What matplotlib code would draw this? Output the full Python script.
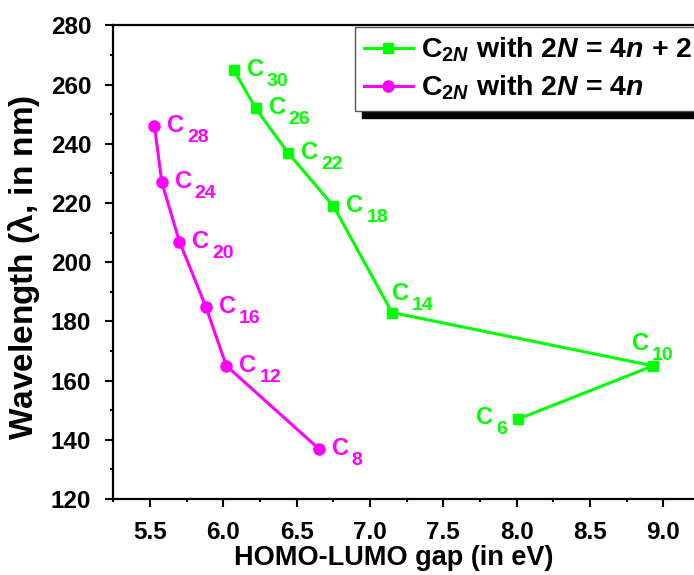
import matplotlib
matplotlib.use('Agg')
import matplotlib.pyplot as plt
from matplotlib.ticker import MultipleLocator

plt.rcParams['font.family'] = ['Liberation Sans', 'DejaVu Sans']
plt.rcParams['font.weight'] = 'bold'
plt.rcParams['axes.labelweight'] = 'bold'
plt.rcParams['mathtext.fontset'] = 'custom'
plt.rcParams['mathtext.rm'] = 'Liberation Sans:bold'
plt.rcParams['mathtext.bf'] = 'Liberation Sans:bold'
plt.rcParams['mathtext.it'] = 'Liberation Sans:bold:italic'
plt.rcParams['mathtext.default'] = 'rm'

# C2N with 2N = 4n + 2
green_gap = [8.01, 8.93, 7.15, 6.75, 6.44, 6.22, 6.07]
green_wl = [147, 165, 183, 219, 237, 252, 265]
green_names = ['6', '10', '14', '18', '22', '26', '30']

# C2N with 2N = 4n
pink_gap = [6.65, 6.02, 5.88, 5.70, 5.58, 5.53]
pink_wl = [137, 165, 185, 207, 227, 246]
pink_names = ['8', '12', '16', '20', '24', '28']

GREEN = '#00ff00'
PINK = '#ff00ff'
PX = 0.72  # points per pixel at dpi 100

fig = plt.figure(figsize=(6.94, 5.75), dpi=100)
ax = fig.add_axes([0.1624, 0.1322, 0.8462, 0.8235])

ax.plot(green_gap, green_wl, '-s', color=GREEN, lw=2.2, ms=7,
        label=r'C$_{2\mathit{N}}$ with 2$\mathit{N}$ = 4$\mathit{n}$ + 2')
ax.plot(pink_gap, pink_wl, '-o', color=PINK, lw=2.2, ms=8,
        label=r'C$_{2\mathit{N}}$ with 2$\mathit{N}$ = 4$\mathit{n}$')


def label(x, y, n, color, dx=13, dy=-6):
    # "C" then a lowered, smaller number; offsets in pixels
    ax.annotate('C', (x, y), xytext=(dx * PX, dy * PX), textcoords='offset points',
                ha='left', va='baseline', color=color, fontsize=17)
    ax.annotate(n, (x, y), xytext=((dx + 20) * PX, (dy - 10) * PX),
                textcoords='offset points', ha='left', va='baseline',
                color=color, fontsize=14)


special = {'14': (0, 13), '10': (-21, 16), '6': (-42, -5)}
for x, y, n in zip(green_gap, green_wl, green_names):
    dx, dy = special.get(n, (13, -6))
    label(x, y, n, GREEN, dx, dy)
for x, y, n in zip(pink_gap, pink_wl, pink_names):
    label(x, y, n, PINK)

ax.set_xlim(5.245, 9.25)
ax.set_ylim(120, 280)
ax.xaxis.set_major_locator(MultipleLocator(0.5))
ax.xaxis.set_minor_locator(MultipleLocator(0.25))
ax.yaxis.set_major_locator(MultipleLocator(20))
ax.yaxis.set_minor_locator(MultipleLocator(10))
ax.tick_params(which='major', direction='out', length=5.5, width=1.5,
               labelsize=17.5, pad=10)
ax.tick_params(which='minor', direction='out', length=2.5, width=1.5)
for t in ax.get_xticklabels() + ax.get_yticklabels():
    t.set_fontweight('bold')
for s in ax.spines.values():
    s.set_linewidth(1.6)

ax.set_xlabel('HOMO-LUMO gap (in eV)', fontsize=19.5)
ax.set_ylabel(r'Wavelength ($\lambda$, in nm)', fontsize=24)
ax.xaxis.set_label_coords(0.479, -0.098)
ax.yaxis.set_label_coords(-0.12, 0.49)

leg = ax.legend(loc='upper left', bbox_to_anchor=(355 / 694, 1 - 27 / 575),
                bbox_transform=fig.transFigure, borderaxespad=0, fontsize=20.5,
                handlelength=1.72, handletextpad=0.3, labelspacing=0.34,
                borderpad=0.3, fancybox=False, framealpha=1,
                shadow={'color': 'black', 'alpha': 1, 'ox': 5, 'oy': -5})
leg.get_frame().set_edgecolor('#555555')
leg.get_frame().set_linewidth(1.0)

fig.savefig('out.png', dpi=100)
